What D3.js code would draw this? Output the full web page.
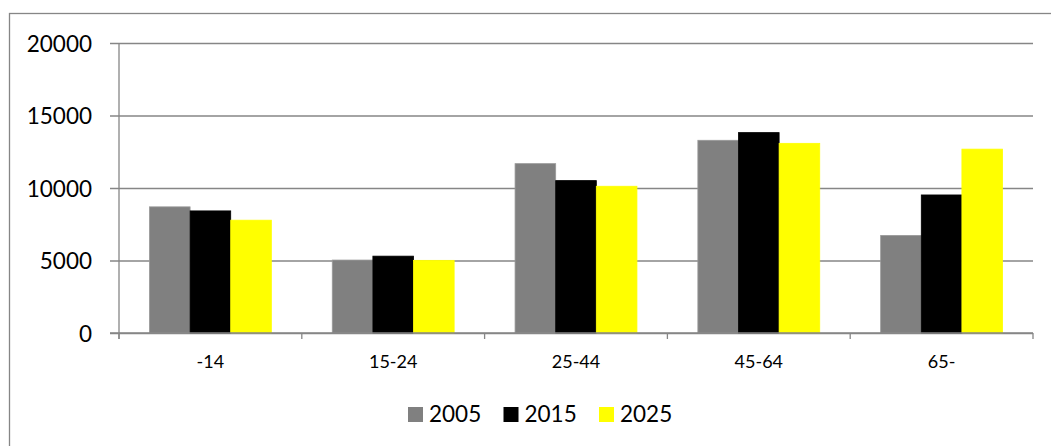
<!DOCTYPE html>
<html>
<head>
<meta charset="utf-8">
<script src="https://cdn.jsdelivr.net/npm/d3@7"></script>
<style>
  html, body { margin: 0; padding: 0; background: #ffffff; }
  svg { display: block; }
  text { font-family: Lato, "Open Sans", sans-serif; fill: #000; }
</style>
</head>
<body>
<svg id="chart" width="1051" height="446"></svg>
<script>
// Population by age group, three snapshot years
const ageGroups = ["-14", "15-24", "25-44", "45-64", "65-"];
const years = ["2005", "2015", "2025"];
const values2005 = [8700, 5030, 11680, 13290, 6730];
const values2015 = [8420, 5300, 10510, 13820, 9520];
const values2025 = [7780, 5010, 10120, 13080, 12680];
const yTicks = [0, 5000, 10000, 15000, 20000];
const seriesColors = ["#808080", "#000000", "#ffff00"];

const seriesValues = [values2005, values2015, values2025];
const rows = ageGroups.map((g, i) => ({
  group: g,
  values: years.map((y, k) => ({ year: y, value: seriesValues[k][i], color: seriesColors[k] }))
}));

const svg = d3.select("#chart");
const gridColor = "#868686";

// outer chart frame
svg.append("rect")
  .attr("x", 9.5).attr("y", 13.5)
  .attr("width", 1100).attr("height", 500)
  .attr("fill", "none").attr("stroke", gridColor).attr("stroke-width", 1.3);

const plot = { left: 119, right: 1033, top: 43, bottom: 333 };

const y = d3.scaleLinear().domain([0, 20000]).range([plot.bottom, plot.top]);
const x0 = d3.scaleBand().domain(ageGroups).range([plot.left, plot.right])
  .paddingInner(1 / 3).paddingOuter(1 / 6);
const x1 = d3.scaleBand().domain(years).range([0, x0.bandwidth()]);
const xOuter = d3.scaleBand().domain(ageGroups).range([plot.left, plot.right]);

// horizontal gridlines with left ticks and labels
const yAxis = d3.axisLeft(y).tickValues(yTicks).tickFormat(d3.format("d"))
  .tickSize(-(plot.right - plot.left + 9)).tickPadding(18);
const yg = svg.append("g").attr("transform", `translate(${plot.left - 9},0)`).call(yAxis);
yg.select(".domain").remove();
yg.selectAll(".tick line").attr("stroke", gridColor).attr("stroke-width", 1.3);
yg.selectAll(".tick text")
  .attr("x", -18)
  .style("font-size", "22.5px")
  .attr("dy", "0.36em");

// bars
const groups = svg.append("g").selectAll("g").data(rows).join("g")
  .attr("transform", d => `translate(${x0(d.group)},0)`);
groups.selectAll("rect").data(d => d.values).join("rect")
  .attr("x", d => x1(d.year))
  .attr("y", d => y(d.value))
  .attr("width", x1.bandwidth())
  .attr("height", d => y(0) - y(d.value))
  .attr("fill", d => d.color)
  .attr("stroke", d => d.year === "2005" ? "#999999" : d.color)
  .attr("stroke-width", 0.8);

// vertical axis line
svg.append("line")
  .attr("x1", plot.left).attr("x2", plot.left)
  .attr("y1", plot.top).attr("y2", plot.bottom + 6)
  .attr("stroke", gridColor).attr("stroke-width", 1.3);

// category axis: baseline, boundary ticks, labels
svg.append("line")
  .attr("x1", plot.left - 9).attr("x2", plot.right)
  .attr("y1", plot.bottom).attr("y2", plot.bottom)
  .attr("stroke", gridColor).attr("stroke-width", 1.3);
const boundaries = ageGroups.map(g => xOuter(g)).concat([plot.right]);
svg.append("g").selectAll("line").data(boundaries).join("line")
  .attr("x1", d => d).attr("x2", d => d)
  .attr("y1", plot.bottom).attr("y2", plot.bottom + 6)
  .attr("stroke", gridColor).attr("stroke-width", 1.3);
svg.append("g").selectAll("text").data(ageGroups).join("text")
  .attr("x", d => xOuter(d) + xOuter.bandwidth() / 2)
  .attr("y", 368)
  .attr("text-anchor", "middle")
  .style("font-size", "18px")
  .text(d => d);

// legend
const legend = svg.append("g").selectAll("g").data(years).join("g")
  .attr("transform", (d, i) => `translate(${408 + i * 95.5},0)`);
legend.append("rect")
  .attr("x", 0).attr("y", 407).attr("width", 15).attr("height", 15)
  .attr("fill", (d, i) => seriesColors[i]);
legend.append("text")
  .attr("x", 21).attr("y", 422)
  .style("font-size", "22.5px")
  .text(d => d);
</script>
</body>
</html>
